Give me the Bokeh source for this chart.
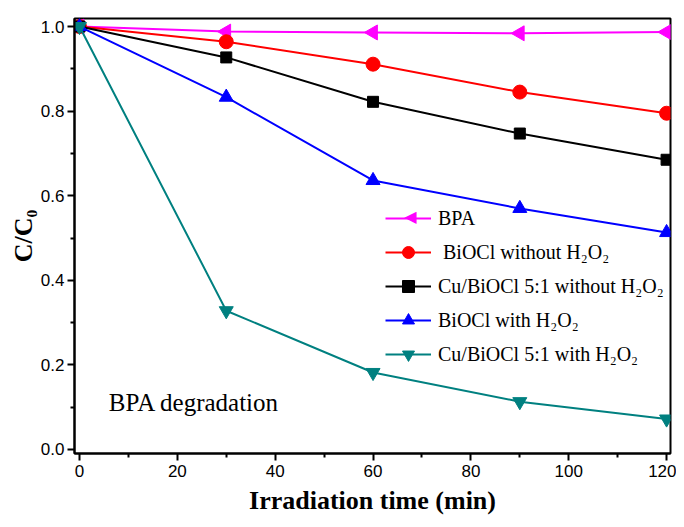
from bokeh.plotting import figure
from bokeh.models import Legend, LegendItem, Label, FixedTicker, Range1d, NumeralTickFormatter, ColumnDataSource
from bokeh.embed import file_html
from bokeh.resources import INLINE
import math

time_min = [0, 30, 60, 90, 120]
bpa = [1.0, 0.988, 0.986, 0.984, 0.987]
biocl_wo = [1.0, 0.964, 0.911, 0.845, 0.795]
cu_biocl_wo = [1.0, 0.927, 0.822, 0.747, 0.685]
biocl_w = [1.0, 0.833, 0.636, 0.570, 0.513]
cu_biocl_w = [1.0, 0.328, 0.182, 0.113, 0.072]

labels = ["BPA", " BiOCl without H\u2082O\u2082", "Cu/BiOCl 5:1 without H\u2082O\u2082",
          "BiOCl with H\u2082O\u2082", "Cu/BiOCl 5:1 with H\u2082O\u2082"]
series = [bpa, biocl_wo, cu_biocl_wo, biocl_w, cu_biocl_w]
colors = ["#FF00FF", "#FF0000", "#000000", "#0000FF", "#008080"]
markers = ["triangle", "circle", "square", "triangle", "inverted_triangle"]
angles = [math.pi / 2, 0.0, 0.0, 0.0, 0.0]
sizes = [15, 14, 11, 14, 14]

p = figure(width=676, height=519, output_backend="svg", toolbar_location=None,
           x_range=Range1d(-1.02, 120.8), y_range=Range1d(-0.0095, 1.019),
           frame_width=596, frame_height=435,
           min_border_left=74, min_border_right=6, min_border_top=18, min_border_bottom=66)
p.grid.visible = False
p.background_fill_color = "white"
p.border_fill_color = "white"
p.outline_line_color = "black"
p.outline_line_width = 2

for ax in [p.xaxis[0], p.yaxis[0]]:
    ax.axis_line_width = 2
    ax.major_tick_line_width = 2
    ax.minor_tick_line_width = 2
    ax.major_tick_out = 7
    ax.major_tick_in = 0
    ax.minor_tick_out = 4
    ax.minor_tick_in = 0
    ax.major_label_text_font = "Liberation Sans"
    ax.major_label_text_font_size = "17px"
    ax.major_label_text_color = "black"
    ax.axis_label_text_font = "Liberation Serif"
    ax.axis_label_text_font_style = "bold"
    ax.axis_label_text_font_size = "26px"
    ax.axis_label_text_color = "black"

p.xaxis[0].ticker = FixedTicker(ticks=[0, 20, 40, 60, 80, 100, 120],
                                minor_ticks=[10, 30, 50, 70, 90, 110])
p.yaxis[0].ticker = FixedTicker(ticks=[0.0, 0.2, 0.4, 0.6, 0.8, 1.0],
                                minor_ticks=[0.1, 0.3, 0.5, 0.7, 0.9])
p.yaxis[0].formatter = NumeralTickFormatter(format="0.0")
p.xaxis[0].axis_label = "Irradiation time (min)"
p.yaxis[0].axis_label = "C/C\u2080"
p.xaxis[0].axis_label_standoff = 6
p.yaxis[0].axis_label_standoff = 0
p.xaxis[0].major_label_standoff = 4
p.yaxis[0].major_label_standoff = 3

items = []
for lab, ys, c, m, a, s in zip(labels, series, colors, markers, angles, sizes):
    src = ColumnDataSource(dict(x=time_min, y=ys, ang=[a] * len(ys)))
    r1 = p.line("x", "y", source=src, line_color=c, line_width=2)
    r2 = p.scatter("x", "y", source=src, marker=m, size=s, angle="ang", angle_units="rad",
                   fill_color=c, line_color=c)
    # legend glyphs cannot be rotated, so the BPA legend marker is drawn as a text glyph below
    items.append(LegendItem(label=lab, renderers=[r1] if a != 0 else [r1, r2]))

legend = Legend(items=items, location=(311, 82), border_line_color=None,
                background_fill_alpha=0, label_text_font="Liberation Serif",
                label_text_font_size="20px", label_text_color="black",
                glyph_width=46, glyph_height=30, label_standoff=7, spacing=0,
                padding=2, margin=0, label_height=34)
p.add_layout(legend)

# left-pointing marker for the BPA legend row (screen units, relative to the frame)
p.add_layout(Label(x=311 + 2 + 23, y=82 + 2 + 4 * 34 + 17, x_units="screen", y_units="screen",
                   text="\u25C0", text_font="DejaVu Sans", text_font_size="16px",
                   text_color="#FF00FF", text_align="center", text_baseline="middle"))

p.add_layout(Label(x=6.0, y=0.08, text="BPA degradation", text_font="Liberation Serif",
                   text_font_size="25px", text_color="black"))

open("out.html", "w").write(file_html(p, INLINE))
